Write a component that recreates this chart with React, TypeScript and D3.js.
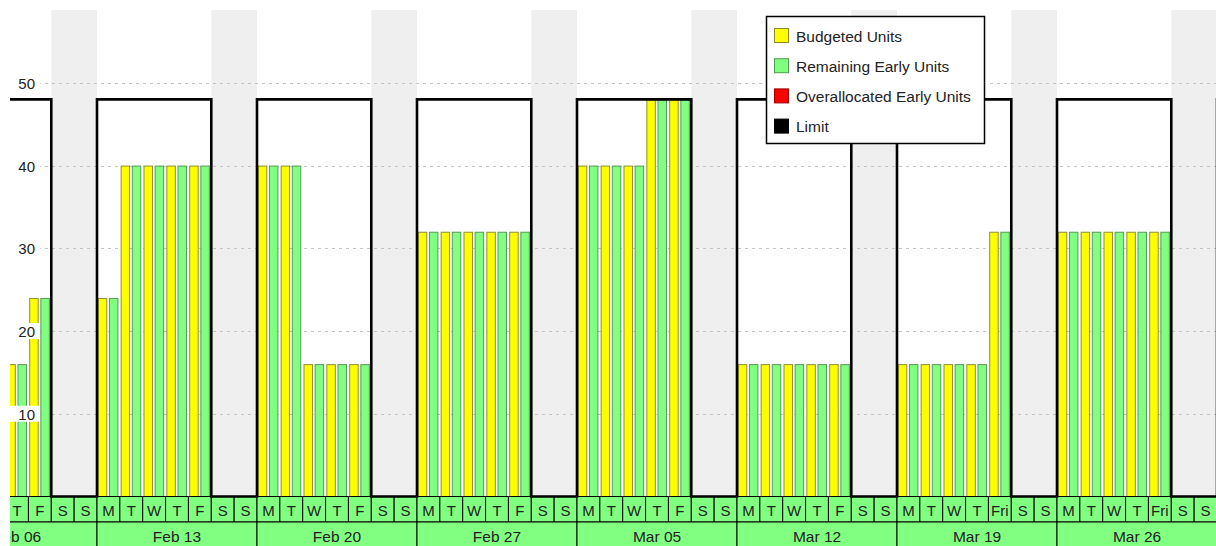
import React from "react";
import * as d3 from "d3";

// ---------- data ----------
const weekLabels = ["Feb 06", "Feb 13", "Feb 20", "Feb 27", "Mar 05", "Mar 12", "Mar 19", "Mar 26"];
const firstMonday = Date.UTC(2012, 1, 6);
const dayLabels: string[][] = [
  ["M", "T", "W", "T", "F", "S", "S"],
  ["M", "T", "W", "T", "F", "S", "S"],
  ["M", "T", "W", "T", "F", "S", "S"],
  ["M", "T", "W", "T", "F", "S", "S"],
  ["M", "T", "W", "T", "F", "S", "S"],
  ["M", "T", "W", "T", "F", "S", "S"],
  ["M", "T", "W", "T", "Fri", "S", "S"],
  ["M", "T", "W", "T", "Fri", "S", "S"],
];
// weekday values (Mon..Fri) per week
const budgetedUnits: (number | null)[] = [
  null, null, null, 16, 24,
  24, 40, 40, 40, 40,
  40, 40, 16, 16, 16,
  32, 32, 32, 32, 32,
  40, 40, 40, 48, 48,
  16, 16, 16, 16, 16,
  16, 16, 16, 16, 32,
  32, 32, 32, 32, 32,
];
const remainingEarlyUnits: (number | null)[] = [
  null, null, null, 16, 24,
  24, 40, 40, 40, 40,
  40, 40, 16, 16, 16,
  32, 32, 32, 32, 32,
  40, 40, 40, 48, 48,
  16, 16, 16, 16, 16,
  16, 16, 16, 16, 32,
  32, 32, 32, 32, 32,
];
const overallocatedEarlyUnits: number[] = new Array(40).fill(0);
const limitByWeekday = [48, 48, 48, 48, 48, 0, 0];
const yTicks = [10, 20, 30, 40, 50];
const legendLabels = ["Budgeted Units", "Remaining Early Units", "Overallocated Early Units", "Limit"];
const legendFills = ["#ffff00", "#80ff80", "#ff0000", "#000000"];
const legendStrokes = ["#8a8a2a", "#4f9a4f", "#a00000", "#000000"];

// ---------- layout ----------
const W = 1216;
const H = 546;
const plotLeft = 10;
const plotTop = 10;
const plotBottom = 496.5;
const dayRowBottom = 522;
const weekRowBottom = 560;
const DAY = 86400000;
const FONT = "'Liberation Sans', Arial, sans-serif";

export default function App() {
  const nDays = weekLabels.length * 7;
  const x = d3
    .scaleUtc()
    .domain([new Date(firstMonday), new Date(firstMonday + nDays * DAY)])
    .range([-63, 1217]);
  const y = d3.scaleLinear().domain([0, 58.8]).range([plotBottom, plotTop]);
  const dayW = x(new Date(firstMonday + DAY)) - x(new Date(firstMonday));
  const inner = d3
    .scaleBand<string>()
    .domain(["budgeted", "remaining"])
    .range([0, dayW])
    .paddingInner(0.15)
    .paddingOuter(0.1)
    .align(0.35);

  const dayDate = (i: number) => new Date(firstMonday + i * DAY);

  // limit step line (extends one extra week for the continuing line)
  const limitPts: [number, number][] = [];
  for (let i = 0; i <= nDays + 7; i++) limitPts.push([x(dayDate(i)), y(limitByWeekday[i % 7])]);
  const limitLine = d3.line().curve(d3.curveStepAfter)(limitPts) || "";

  const bars: React.ReactNode[] = [];
  for (let w = 0; w < weekLabels.length; w++) {
    for (let d = 0; d < 5; d++) {
      const k = w * 5 + d;
      const x0 = x(dayDate(w * 7 + d));
      const series: [string, number | null, string, string][] = [
        ["budgeted", budgetedUnits[k], "#ffff00", "#8f8f30"],
        ["remaining", remainingEarlyUnits[k], "#80ff80", "#55995a"],
      ];
      series.forEach(([key, v, fill, stroke]) => {
        if (v == null || v <= 0) return;
        const bx = x0 + (inner(key) as number);
        bars.push(
          <rect
            key={`${k}-${key}`}
            x={bx + 0.5}
            y={y(v) + 0.5}
            width={inner.bandwidth() - 1}
            height={plotBottom - y(v) - 0.5}
            fill={fill}
            stroke={stroke}
            strokeWidth={1}
          />
        );
      });
      const ov = overallocatedEarlyUnits[k];
      if (ov > 0) {
        const bx = x0 + (inner("remaining") as number);
        bars.push(
          <rect key={`${k}-ov`} x={bx + 0.5} y={y(ov)} width={inner.bandwidth() - 1}
            height={plotBottom - y(ov)} fill="#ff0000" stroke="#a00000" />
        );
      }
    }
  }

  return (
    <svg width={W} height={H} style={{ position: "absolute", left: 0, top: 0, background: "#fff" }}>
      <defs>
        <clipPath id="clipAll">
          <rect x={plotLeft} y={plotTop} width={W - plotLeft} height={H} />
        </clipPath>
      </defs>
      <g clipPath="url(#clipAll)">
        {/* weekend bands */}
        {weekLabels.map((_, w) => {
          const xs = x(dayDate(w * 7 + 5));
          const xe = x(dayDate(w * 7 + 7));
          return <rect key={`we${w}`} x={xs} y={plotTop} width={xe - xs} height={plotBottom - plotTop} fill="#efefef" />;
        })}
        {/* gridlines */}
        {yTicks.map((t) => (
          <line key={`g${t}`} x1={plotLeft} x2={W} y1={Math.round(y(t)) + 0.5} y2={Math.round(y(t)) + 0.5}
            stroke="#c4c4c4" strokeWidth={1} strokeDasharray="3,4" />
        ))}
        {/* bars */}
        {bars}
        {/* day row */}
        {d3.range(nDays).map((i) => {
          const xs = x(dayDate(i));
          const xe = x(dayDate(i + 1));
          const cx = (xs + xe) / 2;
          return (
            <g key={`d${i}`}>
              <rect x={xs} y={plotBottom} width={xe - xs} height={dayRowBottom - plotBottom}
                fill="#80ff80" stroke="#000" strokeWidth={1} />
              {cx > plotLeft + 4 && (
                <text x={cx} y={(plotBottom + dayRowBottom) / 2 + 1} textAnchor="middle"
                  dominantBaseline="central" fontFamily={FONT} fontSize={15} fill="#222">
                  {dayLabels[Math.floor(i / 7)][i % 7]}
                </text>
              )}
            </g>
          );
        })}
        {/* week row */}
        {weekLabels.map((lab, w) => {
          const xs = x(dayDate(w * 7));
          const xe = x(dayDate(w * 7 + 7));
          return (
            <g key={`w${w}`}>
              <rect x={xs} y={dayRowBottom} width={xe - xs} height={weekRowBottom - dayRowBottom}
                fill="#80ff80" stroke="#000" strokeWidth={1} />
              <text x={(xs + xe) / 2} y={536} textAnchor="middle" dominantBaseline="central"
                fontFamily={FONT} fontSize={15.5} fill="#222">
                {lab}
              </text>
            </g>
          );
        })}
        {/* limit line */}
        <path d={limitLine} fill="none" stroke="#000" strokeWidth={2.6} />
        {/* y labels */}
        {yTicks.map((t) => (
          <g key={`yl${t}`}>
            <rect x={plotLeft} y={y(t) - 8} width={30} height={16} fill="#fff" />
            <text x={35} y={y(t) + 0.5} textAnchor="end" dominantBaseline="central"
              fontFamily={FONT} fontSize={15} fill="#222">
              {t}
            </text>
          </g>
        ))}
      </g>
      {/* legend */}
      <g>
        <rect x={766.5} y={16.5} width={218} height={127} fill="#fff" stroke="#000" strokeWidth={1.5} />
        {legendLabels.map((lab, i) => {
          const cy = 35.5 + i * 30.2;
          return (
            <g key={`lg${i}`}>
              <rect x={774.5} y={cy - 7} width={14} height={14} fill={legendFills[i]} stroke={legendStrokes[i]} strokeWidth={1} />
              <text x={796} y={cy + 0.5} dominantBaseline="central" fontFamily={FONT} fontSize={15.5} fill="#222">
                {lab}
              </text>
            </g>
          );
        })}
      </g>
    </svg>
  );
}
